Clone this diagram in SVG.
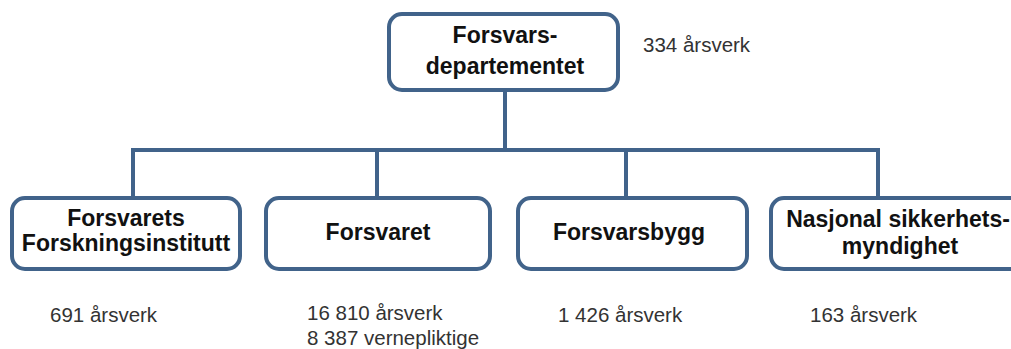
<svg xmlns="http://www.w3.org/2000/svg" width="1011" height="349" viewBox="0 0 1011 349">
<style>
.box{fill:#ffffff;stroke:#41638a;stroke-width:4}
.ln{fill:none;stroke:#41638a;stroke-width:4}
.t{font-family:"Liberation Sans",Arial,sans-serif;font-weight:bold;font-size:23px;fill:#111;text-anchor:middle}
.n{font-family:"Liberation Sans",Arial,sans-serif;font-size:20.5px;fill:#333}
</style>
<rect width="1011" height="349" fill="#ffffff"/>
<g id="connectors">
<path class="ln" d="M505 90 V150"/>
<path class="ln" d="M133 199 V150 H878 V199"/>
<path class="ln" d="M377 150 V199"/>
<path class="ln" d="M626 150 V199"/>
</g>
<g id="node-fd">
<rect class="box" x="389" y="14" width="229" height="76" rx="13"/>
<text class="t" x="505" y="43">Forsvars-</text>
<text class="t" x="505" y="74">departementet</text>
<text class="n" x="643" y="52">334 årsverk</text>
</g>
<g id="node-ffi">
<rect class="box" x="12" y="198" width="228" height="71" rx="13"/>
<text class="t" x="126" y="226">Forsvarets</text>
<text class="t" x="126" y="251">Forskningsinstitutt</text>
<text class="n" x="50" y="322">691 årsverk</text>
</g>
<g id="node-forsvaret">
<rect class="box" x="266" y="198" width="224" height="71" rx="13"/>
<text class="t" x="378" y="240">Forsvaret</text>
<text class="n" x="307" y="320">16 810 årsverk</text>
<text class="n" x="307" y="345">8 387 vernepliktige</text>
</g>
<g id="node-fb">
<rect class="box" x="518" y="198" width="229" height="71" rx="13"/>
<text class="t" x="629" y="240">Forsvarsbygg</text>
<text class="n" x="558" y="322">1 426 årsverk</text>
</g>
<g id="node-nsm">
<rect class="box" x="771" y="198" width="260" height="71" rx="13"/>
<text class="t" x="898" y="227">Nasjonal sikkerhets-</text>
<text class="t" x="900" y="254">myndighet</text>
<text class="n" x="810" y="322">163 årsverk</text>
</g>
</svg>
